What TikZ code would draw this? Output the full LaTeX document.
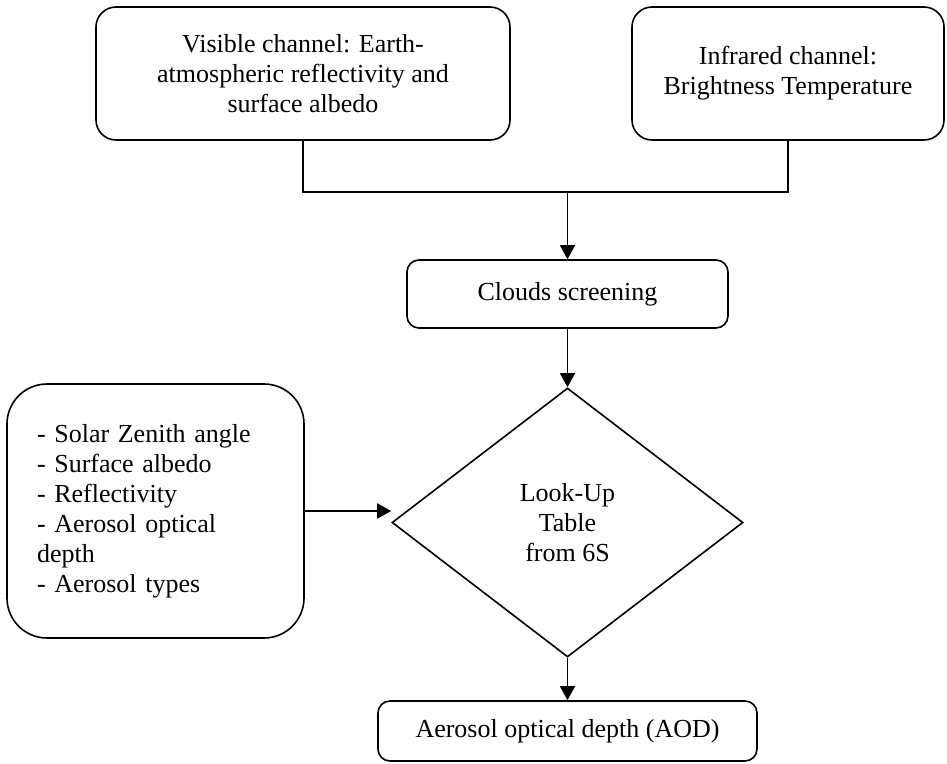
\documentclass[tikz,border=0pt]{standalone}
\usepackage{fontspec}
\setmainfont{Liberation Serif}
\usetikzlibrary{shapes.geometric,arrows.meta}
\begin{document}
\begin{tikzpicture}[x=1pt,y=-1pt,line width=1.6pt,
  txt/.style={font=\fontsize{26}{30}\selectfont},
  rbox/.style={draw, rounded corners=#1, align=center, inner sep=0pt, txt},
  rbox/.default=12pt,
  arr/.style={-{Triangle[width=15pt,length=14pt]}}]
\useasboundingbox (0,0) rectangle (947,763);
% top boxes
\node[rbox=20pt, minimum width=414pt, minimum height=133pt] (vis) at (303,73.5)
  {Visible channel: Earth-\\atmospheric reflectivity and\\surface albedo};
\node[rbox=20pt, minimum width=312pt, minimum height=133pt] (ir) at (788,73.5)
  {Infrared channel:\\Brightness Temperature};
% clouds screening
\node[rbox, minimum width=321pt, minimum height=68pt] (cloud) at (567.5,294)
  {Clouds screening};
% diamond
\node[draw, diamond, inner sep=0pt, minimum width=351pt, minimum height=269pt,
  align=center, txt] (lut) at (567.5,522.5) {Look-Up\\Table\\from 6S};
% left input box
\node[draw, rounded corners=40pt, txt, align=left, text width=237pt,
  inner xsep=30pt, inner ysep=0pt, minimum height=254pt] (inp) at (155.5,511)
  {- Solar Zenith angle\\- Surface albedo\\- Reflectivity\\- Aerosol optical\\depth\\- Aerosol types};
% output box
\node[rbox, minimum width=379pt, minimum height=60pt] (aod) at (567.5,731)
  {Aerosol optical depth (AOD)};
% connectors
\coordinate (j) at (567.5,192);
\draw (vis.south) |- (j) -| (ir.south);
\draw[arr] (j) -- (cloud.north);
\draw[arr] (cloud.south) -- (lut.north);
\draw[arr] (inp.east) -- (inp.east -| lut.west);
\draw[arr] (lut.south) -- (aod.north);
\end{tikzpicture}
\end{document}
